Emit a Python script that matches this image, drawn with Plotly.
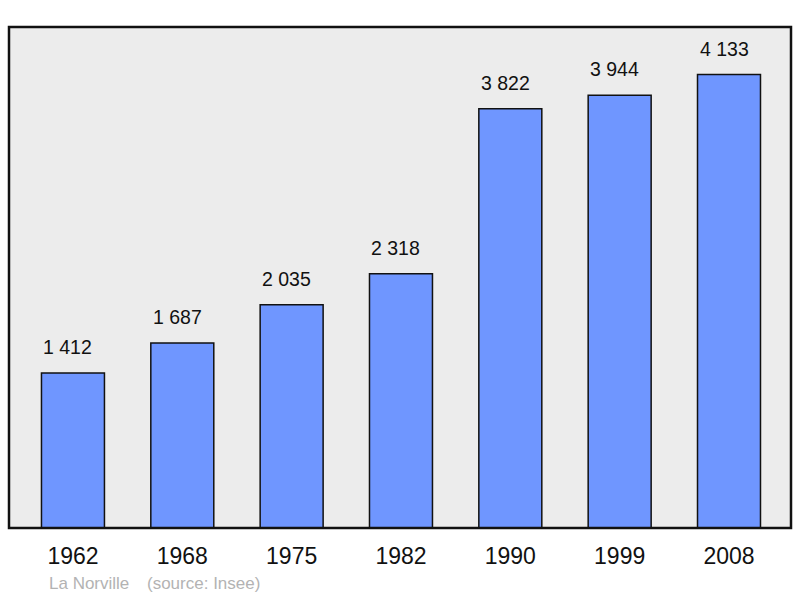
import plotly.graph_objects as go

years = ["1962", "1968", "1975", "1982", "1990", "1999", "2008"]
population = [1412, 1687, 2035, 2318, 3822, 3944, 4133]
labels = ["1 412", "1 687", "2 035", "2 318", "3 822", "3 944", "4 133"]
place = "La Norville"
source = "(source: Insee)"

fig = go.Figure()
fig.add_trace(go.Bar(
    x=list(range(len(years))), y=population,
    width=0.576,
    marker=dict(color="#6f96ff", line=dict(color="#111111", width=1.5)),
    hoverinfo="skip",
))

for i, (v, t) in enumerate(zip(population, labels)):
    fig.add_annotation(x=i, y=v, text=t, showarrow=False, yanchor="bottom",
                       yshift=13, xshift=-5,
                       font=dict(family="Liberation Sans", size=19.5, color="#111111"))

fig.add_shape(type="rect", xref="paper", yref="paper", x0=0, y0=0, x1=1, y1=1,
              line=dict(color="#111111", width=2.5), layer="above")

fig.add_annotation(xref="paper", yref="paper", x=(47 - 9) / 782, y=-55 / 501,
                   xanchor="left", yanchor="middle", showarrow=False, text=place,
                   font=dict(family="Liberation Sans", size=17, color="#b3b3b3"))
fig.add_annotation(xref="paper", yref="paper", x=(145 - 9) / 782, y=-55 / 501,
                   xanchor="left", yanchor="middle", showarrow=False, text=source,
                   font=dict(family="Liberation Sans", size=17, color="#b3b3b3"))

fig.update_layout(
    width=800, height=598,
    margin=dict(l=9, r=9, t=27, b=70),
    paper_bgcolor="white", plot_bgcolor="#ececec",
    showlegend=False,
    xaxis=dict(range=[-0.585, 6.567], tickmode="array", tickvals=list(range(len(years))),
               ticktext=years, showgrid=False, zeroline=False, ticks="", ticklen=0,
               ticklabelstandoff=12,
               tickfont=dict(family="Liberation Sans", size=23, color="#111111")),
    yaxis=dict(range=[0, 4567], showgrid=False, zeroline=False, showticklabels=False),
)

fig.write_html("out.html", config={"displayModeBar": False},
               post_script="document.body.style.margin='0';document.body.style.padding='0';")
